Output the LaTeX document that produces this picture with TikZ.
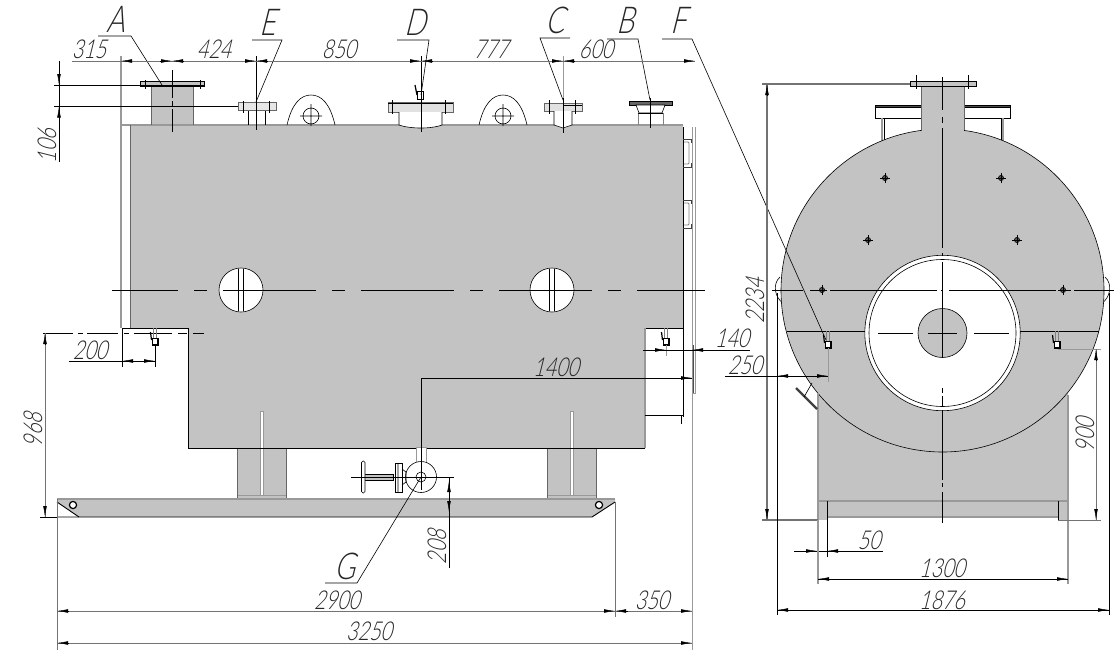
\documentclass[tikz,border=0pt]{standalone}
\usepackage{fontspec}
\usetikzlibrary{arrows.meta}
\newfontfamily\dimfont[FakeSlant=0.25,FakeStretch=0.76]{Lato Light}
\definecolor{bodygray}{HTML}{C3C3C3}
\begin{document}
\begin{tikzpicture}[x=1pt,y=-1pt,line cap=butt,
        >={Latex[length=11pt,width=3.6pt]},
        body/.style={fill=bodygray,draw=none},
        edgeln/.style={draw=black,line width=.9pt},
        thinln/.style={draw=black,line width=.6pt},
        greyln/.style={draw=black!40,line width=1.2pt},
        dimln/.style={draw=black!55,line width=.9pt},
        blackdim/.style={draw=black,line width=.8pt},
        tipln/.style={draw=black,line width=.4pt,->},
        centerln/.style={draw=black,line width=.9pt},
        dimtext/.style={inner sep=0pt,text=black!85,font=\dimfont\fontsize{26}{26}\selectfont},
        lettertext/.style={inner sep=0pt,text=black!85,font=\dimfont\fontsize{37}{37}\selectfont}]
    \useasboundingbox (0,0) rectangle (1118,661);
    % side view, filled parts
    \fill[body] (130,125) -- (683,125) -- (683,328) -- (645,328) -- (645,448) -- (188,448) -- (188,328) -- (130,328) -- cycle;
    \fill[body] (237,448) rectangle (286,498);
    \fill[body] (547,448) rectangle (596,498);
    \fill[body] (79,499) -- (615,499) -- (615,502) -- (592,517) -- (79,517) -- (57,502) -- (57,499) -- cycle;
    \fill[body] (151,86) rectangle (193,125);
    \fill[white] (260,411) rectangle (263,495);
    \fill[white] (570,411) rectangle (573,495);
    \draw[greyln,line width=.7pt] (260,411) rectangle (263,495) (570,411) rectangle (573,495);
    \draw[greyln,line width=.7pt] (237,495) -- (286,495) (547,495) -- (596,495);
    \draw[greyln] (57,499) -- (615,499);
    \draw[thinln,draw=black!60] (237,448) -- (237,498) (286,448) -- (286,498) (547,448) -- (547,498) (596,448) -- (596,498);
    % side view, outline
    \draw[edgeln] (683,328) -- (645,328) (122,328) -- (188,328) -- (188,448) -- (645,448);
    \draw[greyln] (645,328) -- (645,448);
    \draw[greyln] (121,56) -- (121,328) (121,125) -- (683,125);
    \draw[thinln,draw=black!60] (130.5,125) -- (130.5,328);
    \draw[edgeln] (683,127) -- (683,417) (645,415) -- (683,415);
    \draw[thinln] (681,415) -- (681,424);
    \draw[edgeln] (57,517) -- (592,517) -- (615,502);
    \draw[edgeln] (57,502) -- (79,517);
    \draw[edgeln,fill=white,line width=1.2pt] (73,505) circle[radius=3.6pt] (599,505) circle[radius=3.6pt];
    % back plate and handles
    \draw[greyln,line width=.8pt] (692,127) -- (692,650) (695,127) -- (695,393) -- (692,393);
    \draw[edgeln,line width=1.4pt,draw=black!70] (693.5,345) -- (693.5,393);
    \foreach \hy in {139,200} {
        \draw[edgeln,draw=black!75] (683,\hy) -- (691,\hy) -- (691,\hy+4) (683,\hy+28) -- (691,\hy+28) -- (691,\hy+24);
        \draw[greyln,draw=black!50,line width=.8pt,rounded corners=1pt] (684,\hy+3) -- (689,\hy+3) -- (689,\hy+25) -- (684,\hy+25);
    }
    % round holes
    \draw[thinln,fill=white] (241,290) circle[radius=22pt] (552,290) circle[radius=22pt];
    \draw[thinln] (238.5,269) -- (238.5,311) (243.5,269) -- (243.5,311) (549.5,269) -- (549.5,311) (554.5,269) -- (554.5,311);
    \draw[centerln,dash pattern=on 93pt off 16pt on 13pt off 16pt,dash phase=27pt] (112,290) -- (705,290);
    \draw[centerln,dash pattern=on 30pt off 5pt on 5pt off 4pt on 31pt off 6pt on 5pt off 5pt on 38pt off 6pt on 9pt off 6pt on 11pt off 100pt] (43,333) -- (204,333);
    % nozzle A
    \draw[thinln,fill=bodygray] (140,81) rectangle (204,86.5);
    \draw[thinln,draw=black!60] (151,87) -- (151,125) (193,87) -- (193,125);
    \draw[thinln] (145,80) -- (145,89) (200,80) -- (200,89);
    \draw[thinln,dash pattern=on 28pt off 3pt on 5pt off 3pt] (172,70) -- (172,132);
    % nozzle E
    \draw[thinln,draw=black!60,fill=bodygray!40] (238,102) rectangle (276,110.5);
    \draw[thinln] (243,101) -- (243,113) (269,101) -- (269,113) (248,111) -- (248,125) (265,111) -- (265,125) (256,56) -- (256,130);
    % lifting eyes
    \foreach \ex in {311,503} {
        \draw[thinln] (\ex-24,125) .. controls (\ex-19,103) and (\ex-10,95) .. (\ex,95) .. controls (\ex+10,95) and (\ex+19,103) .. (\ex+24,125);
        \draw[thinln] (\ex,116) circle[radius=8pt] (\ex-11,116) -- (\ex+11,116) (\ex,104) -- (\ex,126);
    }
    % nozzle D
    \draw[thinln,draw=black!60,fill=bodygray!50] (388,102) rectangle (453,112);
    \draw[thinln] (388,103) -- (453,103) (392,100) -- (392,114) (445,100) -- (445,114);
    \draw[thinln,fill=white] (399,112) -- (399,125) .. controls (410,129) and (432,129) .. (442,125) -- (442,112);
    \draw[thinln] (421,56) -- (421,132);
    \draw[thinln,line width=1pt] (417.5,91) rectangle (423,99);
    \draw[edgeln,line width=1.2pt] (415,85) -- (417,95);
    % nozzle C
    \draw[thinln,draw=black!60,fill=bodygray!50] (544,103) rectangle (582,111);
    \draw[thinln] (549.5,100) -- (549.5,114) (575.5,100) -- (575.5,114) (563,105) -- (582,105);
    \draw[thinln,fill=white] (554,111) -- (554,125) -- (563,128) -- (572,125) -- (572,111);
    \draw[greyln,line width=.9pt] (563,56) -- (563,98);
    \draw[thinln] (563,98) -- (563,133);
    % nozzle B
    \draw[thinln,fill=black!60] (629,101) rectangle (672,105);
    \draw[thinln,fill=white] (636,105) -- (639,113) -- (662,113) -- (665,105) -- cycle;
    \draw[thinln,draw=black!50] (638,113) -- (638,125) (663,113) -- (663,125);
    \draw[thinln] (650,98) -- (650,128) (638,113) -- (663,113);
    % valve
    \draw[greyln,line width=.9pt,fill=white] (416,462) -- (416,447) -- (426,447) -- (426,462);
    \draw[thinln,fill=white] (421,477) circle[radius=15.5pt];
    \draw[thinln] (421,477) circle[radius=5pt];
    \draw[thinln,fill=white] (395,463) rectangle (402,492);
    \draw[thinln] (398,463) -- (398,492) (402,469) -- (406,472) -- (406,482) -- (402,485);
    \draw[thinln,fill=bodygray] (364,474) rectangle (393,480);
    \draw[thinln,fill=white,rounded corners=1.5pt] (361.5,461) rectangle (365,493);
    \draw[edgeln] (421,378) -- (421,490);
    \draw[edgeln] (351,477) -- (454,477);
    % end view, filled parts
    \fill[body] (818,393) rectangle (1068,517);
    \fill[body] (818,517) rectangle (827,520);
    \fill[body] (1058,517) rectangle (1068,520);
    \draw[thinln,fill=white] (780,277) .. controls (772,284) and (775,298) .. (783,303);
    \draw[thinln,fill=white] (1105,277) .. controls (1113,284) and (1110,298) .. (1102,303);
    \draw[thinln,fill=white] (875.5,105) rectangle (1010,118);
    \draw[thinln,fill=black!70] (875.5,105) rectangle (1010,107);
    \draw[thinln] (884,118) -- (884,141) (1001,118) -- (1001,141);
    \draw[greyln] (882,118) -- (882,141) (1003,118) -- (1003,141);
    \draw[thinln,fill=bodygray] (942.5,290.5) circle[radius=161.5pt];
    \fill[body] (921.5,86) rectangle (964,131);
    \draw[thinln,draw=black!60] (921.5,87) -- (921.5,130) (964,87) -- (964,130);
    \draw[thinln,fill=bodygray] (910,81.5) rectangle (976,86);
    \draw[thinln] (916.5,75) -- (916.5,89) (968.5,75) -- (968.5,89);
    \draw[thinln,fill=white] (942.5,333) circle[radius=77.7pt];
    \draw[thinln,fill=white] (942.5,333) circle[radius=73.5pt];
    \draw[thinln,fill=bodygray] (942.5,333) circle[radius=24.5pt];
    \draw[greyln] (818,501) -- (1068,501) (818,393) -- (818,520) (1068,395) -- (1068,584);
    \draw[greyln] (827,517) -- (1058,517);
    \draw[edgeln] (827,501) -- (827,520) (1058,501) -- (1058,520);
    % end view, bolts
    \foreach \bx/\by in {885/178,1001/178,868/240,1017/240,822/290,1063/290} {
        \draw[thinln,fill=black!65] (\bx,\by) circle[radius=2.6pt];
        \draw[thinln] (\bx-5,\by) -- (\bx+5,\by) (\bx,\by-5) -- (\bx,\by+5);
    }
    % end view, axes
    \draw[centerln,dash pattern=on 31pt off 7pt on 15pt off 5pt on 107pt off 4pt on 2pt off 6pt on 107pt off 3pt on 12pt off 3pt on 40pt off 50pt] (772,290) -- (1115,290);
    \draw[edgeln] (787,331) -- (865,331) (1020,331) -- (1099,331);
    \draw[centerln,dash pattern=on 35pt off 15pt on 29pt off 17pt on 35pt off 50pt] (878,333) -- (1009,333);
    \draw[centerln,dash pattern=on 33pt off 7pt on 6pt off 5pt on 120pt off 5pt on 3pt off 6pt on 95pt off 31pt on 5pt off 3pt on 11pt off 3pt on 70pt off 3pt on 4pt off 5pt on 31pt off 50pt] (942.5,77) -- (942.5,525);
    % sensors, both views
    \foreach \sx/\sy in {155/328,666/328,828/331,1057/331} {
        \draw[thinln,draw=black!50] (\sx-2,\sy) -- (\sx-2,\sy+10) (\sx+1,\sy) -- (\sx+1,\sy+10);
        \draw[edgeln,fill=white,line width=1.1pt] (\sx-2.5,\sy+10.5) rectangle (\sx+3,\sy+17);
        \draw[edgeln,line width=1.2pt] (\sx-4.5,\sy+4) -- (\sx-3.5,\sy+12);
    }
    \draw[greyln,line width=.8pt] (666,345) -- (666,356);
    % end view, sight
    \draw[greyln,line width=.8pt] (828,348) -- (828,382) (1058,349) -- (1101,349);
    \draw[draw=black!75,line width=2.4pt] (796,388) -- (817,409);
    \draw[thinln] (804,397) -- (812,383);
    % leaders
    \draw[thinln] (98,36) -- (131,36) -- (162,85);
    \draw[thinln] (252,40) -- (282,40) -- (256,102);
    \draw[thinln] (397,40) -- (429,40) -- (421,95);
    \draw[thinln] (570,38) -- (540,38) -- (563,100);
    \draw[thinln] (607,39) -- (638,39) -- (650,100);
    \draw[thinln] (662,39) -- (692,39) -- (826,340);
    \draw[thinln] (325,583) -- (357,583) -- (421,477);
    % dimensions of the side view
    \draw[dimln] (72,61) -- (695,61);
    \foreach \ta/\tb in {131/121,160/172,184/172,245/256,268/256,410/421,432/421,552/563,574/563,684/695}
        \draw[tipln] (\ta,61) -- (\tb,61);
    \draw[edgeln] (54,85) -- (204,85) (54,106.5) -- (238,106.5);
    \draw[blackdim] (59,61) -- (59,162);
    \draw[tipln] (59,74) -- (59,85);
    \draw[tipln] (59,118) -- (59,106.5);
    \draw[dimln] (45,333) -- (45,517);
    \draw[tipln] (45,344) -- (45,333);
    \draw[tipln] (45,506) -- (45,517);
    \draw[edgeln] (40,517) -- (57,517);
    \draw[blackdim] (69,361) -- (155,361) (122,328) -- (122,367) (155,345) -- (155,367);
    \draw[tipln] (134,361) -- (122,361);
    \draw[tipln] (144,361) -- (155,361);
    \draw[blackdim] (421,378) -- (692,378);
    \draw[tipln] (681,378) -- (692,378);
    \draw[blackdim] (643,350) -- (750,350);
    \draw[tipln] (654,350) -- (666,350);
    \draw[tipln] (703,350) -- (692,350);
    \draw[blackdim] (449,477) -- (449,568);
    \draw[tipln] (449,492) -- (449,481);
    \draw[tipln] (449,500) -- (449,512);
    \draw[dimln] (57,499) -- (57,650) (615,502) -- (615,617);
    \draw[dimln] (57,611) -- (692,611) (57,643) -- (692,643);
    \foreach \ta/\tb in {68/57,604/615,628/615,681/692}
        \draw[tipln] (\ta,611) -- (\tb,611);
    \draw[tipln] (68,643) -- (57,643);
    \draw[tipln] (681,643) -- (692,643);
    % dimensions of the end view
    \draw[dimln,line width=1.2pt] (767,84) -- (767,520) (762,84) -- (910,84) (762,520) -- (818,520);
    \draw[tipln] (767,95) -- (767,84);
    \draw[tipln] (767,509) -- (767,520);
    \draw[edgeln] (777,293) -- (777,615) (1109,293) -- (1109,615);
    \draw[blackdim] (725,376) -- (828,376);
    \draw[tipln] (789,376) -- (777,376);
    \draw[tipln] (817,376) -- (828,376);
    \draw[blackdim] (794,551) -- (883,551) (817,520) -- (817,557) (827,520) -- (827,557);
    \draw[tipln] (806,551) -- (817,551);
    \draw[tipln] (838,551) -- (827,551);
    \draw[greyln] (818,520) -- (818,584);
    \draw[blackdim] (818,579) -- (1068,579);
    \draw[tipln] (830,579) -- (818,579);
    \draw[tipln] (1056,579) -- (1068,579);
    \draw[blackdim] (777,610) -- (1109,610);
    \draw[tipln] (789,610) -- (777,610);
    \draw[tipln] (1097,610) -- (1109,610);
    \draw[dimln] (1058,520) -- (1101,520);
    \draw[dimln] (1096,349) -- (1096,520);
    \draw[tipln] (1096,360) -- (1096,349);
    \draw[tipln] (1096,509) -- (1096,520);
    % labels
    \node[lettertext] (labA) at (116,19) {A};
    \node[lettertext] (labE) at (268,22) {E};
    \node[lettertext] (labD) at (415,22) {D};
    \node[lettertext] (labC) at (555,20) {C};
    \node[lettertext] (labB) at (625,20) {B};
    \node[lettertext] (labF) at (678,20) {F};
    \node[lettertext] (labG) at (345,566) {G};
    \node[dimtext] (dim315) at (89,49.5) {315};
    \node[dimtext] (dim424) at (214,49.5) {424};
    \node[dimtext] (dim850) at (339,49.5) {850};
    \node[dimtext] (dim777) at (491,49.5) {777};
    \node[dimtext] (dim600) at (596,49.5) {600};
    \node[dimtext,rotate=90] (dim106) at (47,146) {106};
    \node[dimtext,rotate=90] (dim968) at (33,430) {968};
    \node[dimtext] (dim200) at (90,350.5) {200};
    \node[dimtext] (dim1400) at (556,367.5) {1400};
    \node[dimtext] (dim140) at (732,338.5) {140};
    \node[dimtext] (dim250) at (745,365.5) {250};
    \node[dimtext,rotate=90] (dim208) at (437,547) {208};
    \node[dimtext] (dim2900) at (337,600) {2900};
    \node[dimtext] (dim350) at (652,600) {350};
    \node[dimtext] (dim3250) at (369,631) {3250};
    \node[dimtext,rotate=90] (dim2234) at (755,301) {2234};
    \node[dimtext,rotate=90] (dim900) at (1085,435) {900};
    \node[dimtext] (dim50) at (869,540) {50};
    \node[dimtext] (dim1300) at (942,568) {1300};
    \node[dimtext] (dim1876) at (942,600) {1876};
\end{tikzpicture}
\end{document}
